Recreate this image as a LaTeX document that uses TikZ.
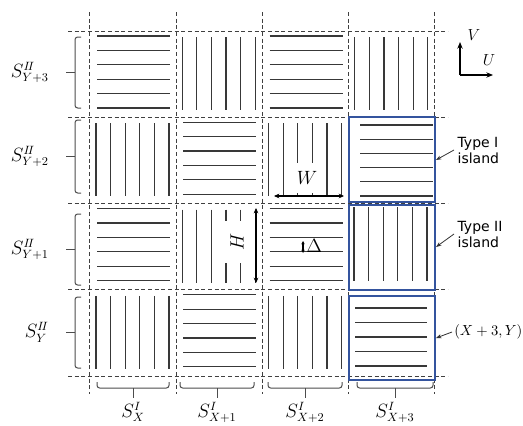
\documentclass[tikz,border=0pt]{standalone}
\usepackage{fontspec}
\newfontfamily\labsans{DejaVu Sans}
\usetikzlibrary{arrows.meta}
\definecolor{islandblue}{RGB}{52,84,158}
\begin{document}
\begin{tikzpicture}[x=0.75pt,y=-0.75pt,
  gridline/.style={draw=black!75, line width=0.7pt, dash pattern=on 3pt off 2pt},
  pat/.style={draw=black!78, line width=0.9pt},
  islandbox/.style={draw=islandblue, line width=1.6pt},
  brc/.style={draw=black!70, line width=0.75pt, rounded corners=2pt},
  mathlab/.style={inner sep=0pt, font=\fontsize{13.5}{16}\selectfont},
  sanslab/.style={inner sep=2.5pt, align=left, font=\labsans\fontsize{10.5}{12}\selectfont},
  ptr/.style={draw=black!80, line width=0.6pt, -{Stealth[length=4pt,width=3pt]}},
  dimarrow/.style={draw=black, line width=1.1pt, {Stealth[length=4pt,width=3.5pt]}-{Stealth[length=4pt,width=3.5pt]}},
  axis/.style={draw=black, line width=1.1pt},
  whitebg/.style={fill=white, inner sep=0pt}
]
\useasboundingbox (0,0) rectangle (523,425);

% dashed grid
\foreach \x in {89,176,262,348,434} \draw[gridline] (\x,12) -- (\x,394);
\foreach \y in {31,117,203,289,376} \draw[gridline] (68,\y) -- (448,\y);

% cell line patterns
\foreach \r in {0,1,2,3}{
  \foreach \c in {0,1,2,3}{
    \pgfmathsetmacro\xo{89+86.25*\c}
    \pgfmathsetmacro\yo{31+86.25*\r}
    \pgfmathtruncatemacro\parity{mod(\r+\c,2)}
    \pgfmathtruncatemacro\isl{(\c==3)&&(\r>0)}
    \ifnum\isl=0
      \ifnum\parity=0
        \foreach \k in {0,...,5} \draw[pat] (\xo+8,\yo+5+14.4*\k) -- ++(73,0);
      \else
        \foreach \k in {0,...,5} \draw[pat] (\xo+7+14.6*\k,\yo+6) -- ++(0,73);
      \fi
    \fi
  }
}

% island cells
\foreach \k in {0,...,5} \draw[pat] (360,125+14.2*\k) -- (433,125+14.2*\k);
\draw[islandbox] (349,117) rectangle (435,202);
\foreach \k in {0,...,5} \draw[pat] (354+14.6*\k,207) -- (354+14.6*\k,281);
\draw[islandbox] (349,205) rectangle (435,290);
\foreach \k in {0,...,4} \draw[pat] (355,308+14.5*\k) -- (427,308+14.5*\k);
\draw[islandbox] (349,296) rectangle (435,380);

% left braces and labels
\foreach \t/\b/\lab/\nm in {37/108/{Y+3}/r3, 120/193/{Y+2}/r2, 214/285/{Y+1}/r1, 297/368/{Y}/r0}{
  \draw[brc] (81,\t) -- (75,\t) -- (75,\b) -- (81,\b);
  \draw[draw=black!70, line width=0.75pt] (75,{(\t+\b)/2}) -- (66,{(\t+\b)/2});
  \node[mathlab, anchor=east] (\nm) at (49,{(\t+\b)/2}) {$S^{I\!I}_{\lab}$};
}

% bottom braces and labels
\foreach \l/\r/\lab/\nm in {97/169/{X}/c0, 180/254/{X+1}/c1, 268/342/{X+2}/c2, 357/433/{X+3}/c3}{
  \draw[brc] (\l,382) -- (\l,388) -- (\r,388) -- (\r,382);
  \draw[draw=black!70, line width=0.75pt] ({(\l+\r)/2},388) -- ({(\l+\r)/2},398);
  \node[mathlab, anchor=base] (\nm) at ({(\l+\r)/2},417) {$S^{I}_{\lab}$};
}

% W dimension
\coordinate (wl) at (274,196);
\coordinate (wr) at (344,196);
\draw[dimarrow] (wl) -- (wr);
\node[mathlab, whitebg, minimum width=22pt, minimum height=22pt] (wlab) at (307,178) {$W$};

% H dimension
\coordinate (ht) at (256,208);
\coordinate (hb) at (256,283);
\draw[dimarrow] (ht) -- (hb);
\node[mathlab, whitebg, rotate=90, minimum width=31pt, minimum height=22pt] (hlab) at (237,242) {$H$};

% Delta
\coordinate (dt) at (303,241);
\coordinate (db) at (303,253);
\draw[draw=black, line width=0.9pt, {Stealth[length=2.5pt,width=2.5pt]}-{Stealth[length=2.5pt,width=2.5pt]}] (dt) -- (db);
\node[mathlab, anchor=west] (dlab) at (306,246) {$\Delta$};

% axes
\coordinate (o) at (460,75);
\coordinate (vt) at (460,42);
\coordinate (ut) at (493,75);
\draw[axis, -{Stealth[length=5pt,width=4pt]}] (o) -- (vt);
\draw[axis, -{Stealth[length=5pt,width=4pt]}] (o) -- (ut);
\node[mathlab, font=\fontsize{13}{15}\selectfont] (vlab) at (474,35) {$V$};
\node[mathlab, font=\fontsize{13}{15}\selectfont] (ulab) at (489,60) {$U$};

% island labels
\node[sanslab, anchor=west] (t1) at (454,150) {Type I\\island};
\coordinate (t1tip) at (436,160);
\draw[ptr] (t1.west) -- (t1tip);
\node[sanslab, anchor=west] (t2) at (454,234) {Type II\\island};
\coordinate (t2tip) at (436,247);
\draw[ptr] (t2.west) -- (t2tip);
\node[mathlab, inner sep=1.5pt, anchor=west, font=\fontsize{10.8}{12}\selectfont] (t3) at (452,332) {$(X+3,Y)$};
\coordinate (t3tip) at (436,338);
\draw[ptr] (t3.west) -- (t3tip);
\end{tikzpicture}
\end{document}
